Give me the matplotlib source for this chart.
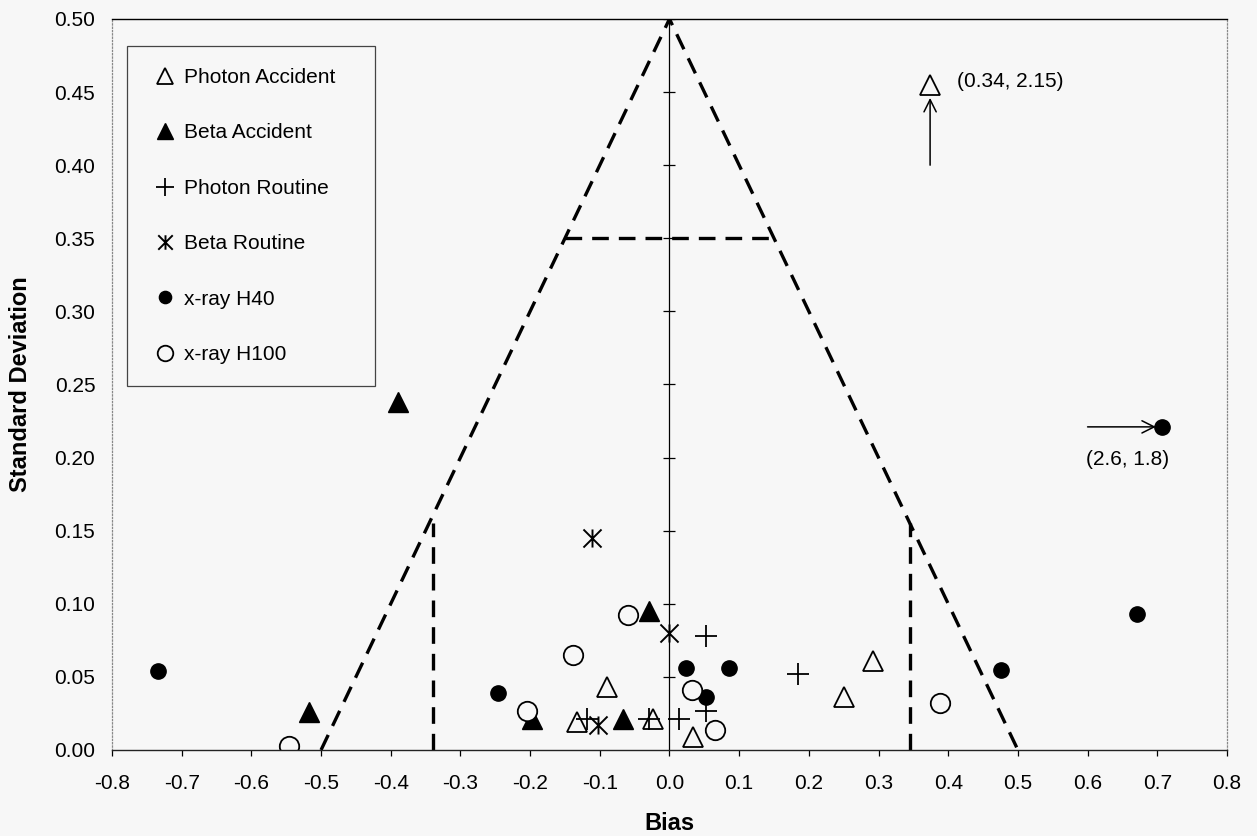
import matplotlib
matplotlib.use('Agg')
import matplotlib.pyplot as plt
from matplotlib.path import Path
import numpy as np

plt.rcParams['font.family'] = ['Liberation Sans', 'DejaVu Sans']

bg = '#f7f7f7'

# points: bias, standard deviation
pa_bias = [-0.132, -0.089, -0.024, 0.034, 0.25, 0.292]
pa_sd = [0.019, 0.043, 0.021, 0.009, 0.036, 0.061]

ba_bias = [-0.517, -0.389, -0.197, -0.066, -0.030]
ba_sd = [0.026, 0.238, 0.021, 0.021, 0.095]

pr_bias = [-0.118, -0.029, 0.014, 0.053, 0.053, 0.184]
pr_sd = [0.021, 0.021, 0.021, 0.027, 0.078, 0.052]

br_bias = [-0.111, -0.102, 0.0]
br_sd = [0.145, 0.017, 0.080]

h40_bias = [-0.734, -0.246, 0.024, 0.053, 0.086, 0.476, 0.671]
h40_sd = [0.054, 0.039, 0.056, 0.036, 0.056, 0.055, 0.093]

h100_bias = [-0.546, -0.204, -0.138, -0.059, 0.033, 0.066, 0.388]
h100_sd = [0.003, 0.027, 0.065, 0.092, 0.041, 0.014, 0.032]

# off scale points, drawn at the edge with an arrow
pa_off_bias, pa_off_sd = [0.374], [0.455]
h40_off_bias, h40_off_sd = [0.707], [0.221]

# performance limit lines
tri_x = [-0.5, 0.0, 0.5]
tri_y = [0.0, 0.5, 0.0]
hline_x = [-0.15, 0.15]
hline_y = [0.35, 0.35]
vline_left_x = [-0.34, -0.34]
vline_right_x = [0.345, 0.345]
vline_y = [0.0, 0.155]

xticks = np.arange(-0.8, 0.81, 0.1)
yticks = np.arange(0.0, 0.501, 0.05)

# asterisk marker (X with vertical bar)
star = Path([(-1, -1), (1, 1), (-1, 1), (1, -1), (0, -1), (0, 1)],
            [Path.MOVETO, Path.LINETO, Path.MOVETO, Path.LINETO, Path.MOVETO, Path.LINETO])

fig = plt.figure(figsize=(12.57, 8.36), dpi=100, facecolor=bg)
ax = fig.add_axes([0.0891, 0.1029, 0.887, 0.8744], facecolor=bg)

dash = (0, (5, 3))
ax.plot(tri_x, tri_y, color='k', lw=2.4, ls=dash)
ax.plot(hline_x, hline_y, color='k', lw=2.4, ls=dash)
ax.plot(vline_left_x, vline_y, color='k', lw=2.4, ls=dash)
ax.plot(vline_right_x, vline_y, color='k', lw=2.4, ls=dash)

# y axis crossing at bias = 0
ax.axvline(0, color='k', lw=0.9, zorder=1)
ax.plot(np.zeros(len(yticks) - 1), yticks[1:], ls='none', marker='_', ms=9, mew=0.9, color='k')

ax.plot(pa_bias, pa_sd, ls='none', marker='^', ms=14, mfc=bg, mec='k', mew=1.3, label='Photon Accident')
ax.plot(ba_bias, ba_sd, ls='none', marker='^', ms=14, mfc='k', mec='k', mew=1.0, label='Beta Accident')
ax.plot(pr_bias, pr_sd, ls='none', marker='+', ms=16, mec='k', mew=1.3, label='Photon Routine')
ax.plot(br_bias, br_sd, ls='none', marker=star, ms=13, mec='k', mew=1.4, label='Beta Routine')
ax.plot(h40_bias, h40_sd, ls='none', marker='o', ms=11, mfc='k', mec='k', label='x-ray H40')
ax.plot(h100_bias, h100_sd, ls='none', marker='o', ms=14, mfc=bg, mec='k', mew=1.3, label='x-ray H100')

ax.plot(pa_off_bias, pa_off_sd, ls='none', marker='^', ms=14, mfc=bg, mec='k', mew=1.3)
ax.plot(h40_off_bias, h40_off_sd, ls='none', marker='o', ms=11, mfc='k', mec='k')

ax.annotate('', xy=(0.374, 0.446), xytext=(0.374, 0.40),
            arrowprops=dict(arrowstyle='->', color='k', lw=1.1, mutation_scale=22, shrinkA=0, shrinkB=0))
ax.annotate('', xy=(0.698, 0.221), xytext=(0.600, 0.221),
            arrowprops=dict(arrowstyle='->', color='k', lw=1.1, mutation_scale=22, shrinkA=0, shrinkB=0))
ax.text(0.412, 0.457, '(0.34, 2.15)', fontsize=15, ha='left', va='center')
ax.text(0.658, 0.199, '(2.6, 1.8)', fontsize=15, ha='center', va='center')

ax.set_xlim(-0.8, 0.8)
ax.set_ylim(0.0, 0.5)
ax.set_xticks(xticks)
ax.set_xticklabels(['%.1f' % v if abs(v) > 1e-9 else '0.0' for v in xticks], fontsize=15)
ax.set_yticks(yticks)
ax.set_yticklabels(['%.2f' % v for v in yticks], fontsize=15)
ax.tick_params(axis='y', length=0, pad=12)
ax.tick_params(axis='x', length=4, width=0.9, direction='out', pad=13)

ax.set_xlabel('Bias', fontsize=17, fontweight='bold')
ax.set_ylabel('Standard Deviation', fontsize=17, fontweight='bold')
ax.xaxis.set_label_coords(0.5, -0.085)
ax.yaxis.set_label_coords(-0.072, 0.5)

for side in ['left', 'right']:
    ax.spines[side].set_color('#888888')
    ax.spines[side].set_linestyle(':')
    ax.spines[side].set_linewidth(0.9)
ax.spines['top'].set_color('k')
ax.spines['top'].set_linewidth(1.0)
ax.spines['bottom'].set_color('#222222')
ax.spines['bottom'].set_linewidth(1.0)

leg = ax.legend(loc='upper left', bbox_to_anchor=(0.0135, 0.963 - 0.4665, 0.2224, 0.4665),
                mode='expand', borderaxespad=0, fontsize=15, labelspacing=1.75,
                borderpad=1.05, handlelength=1.5, handletextpad=0.2, numpoints=1,
                markerscale=0.8, fancybox=False, framealpha=1)
leg.get_frame().set_facecolor(bg)
leg.get_frame().set_edgecolor('#444444')
leg.get_frame().set_linewidth(0.9)

fig.savefig('out.png', dpi=100, facecolor=bg)
